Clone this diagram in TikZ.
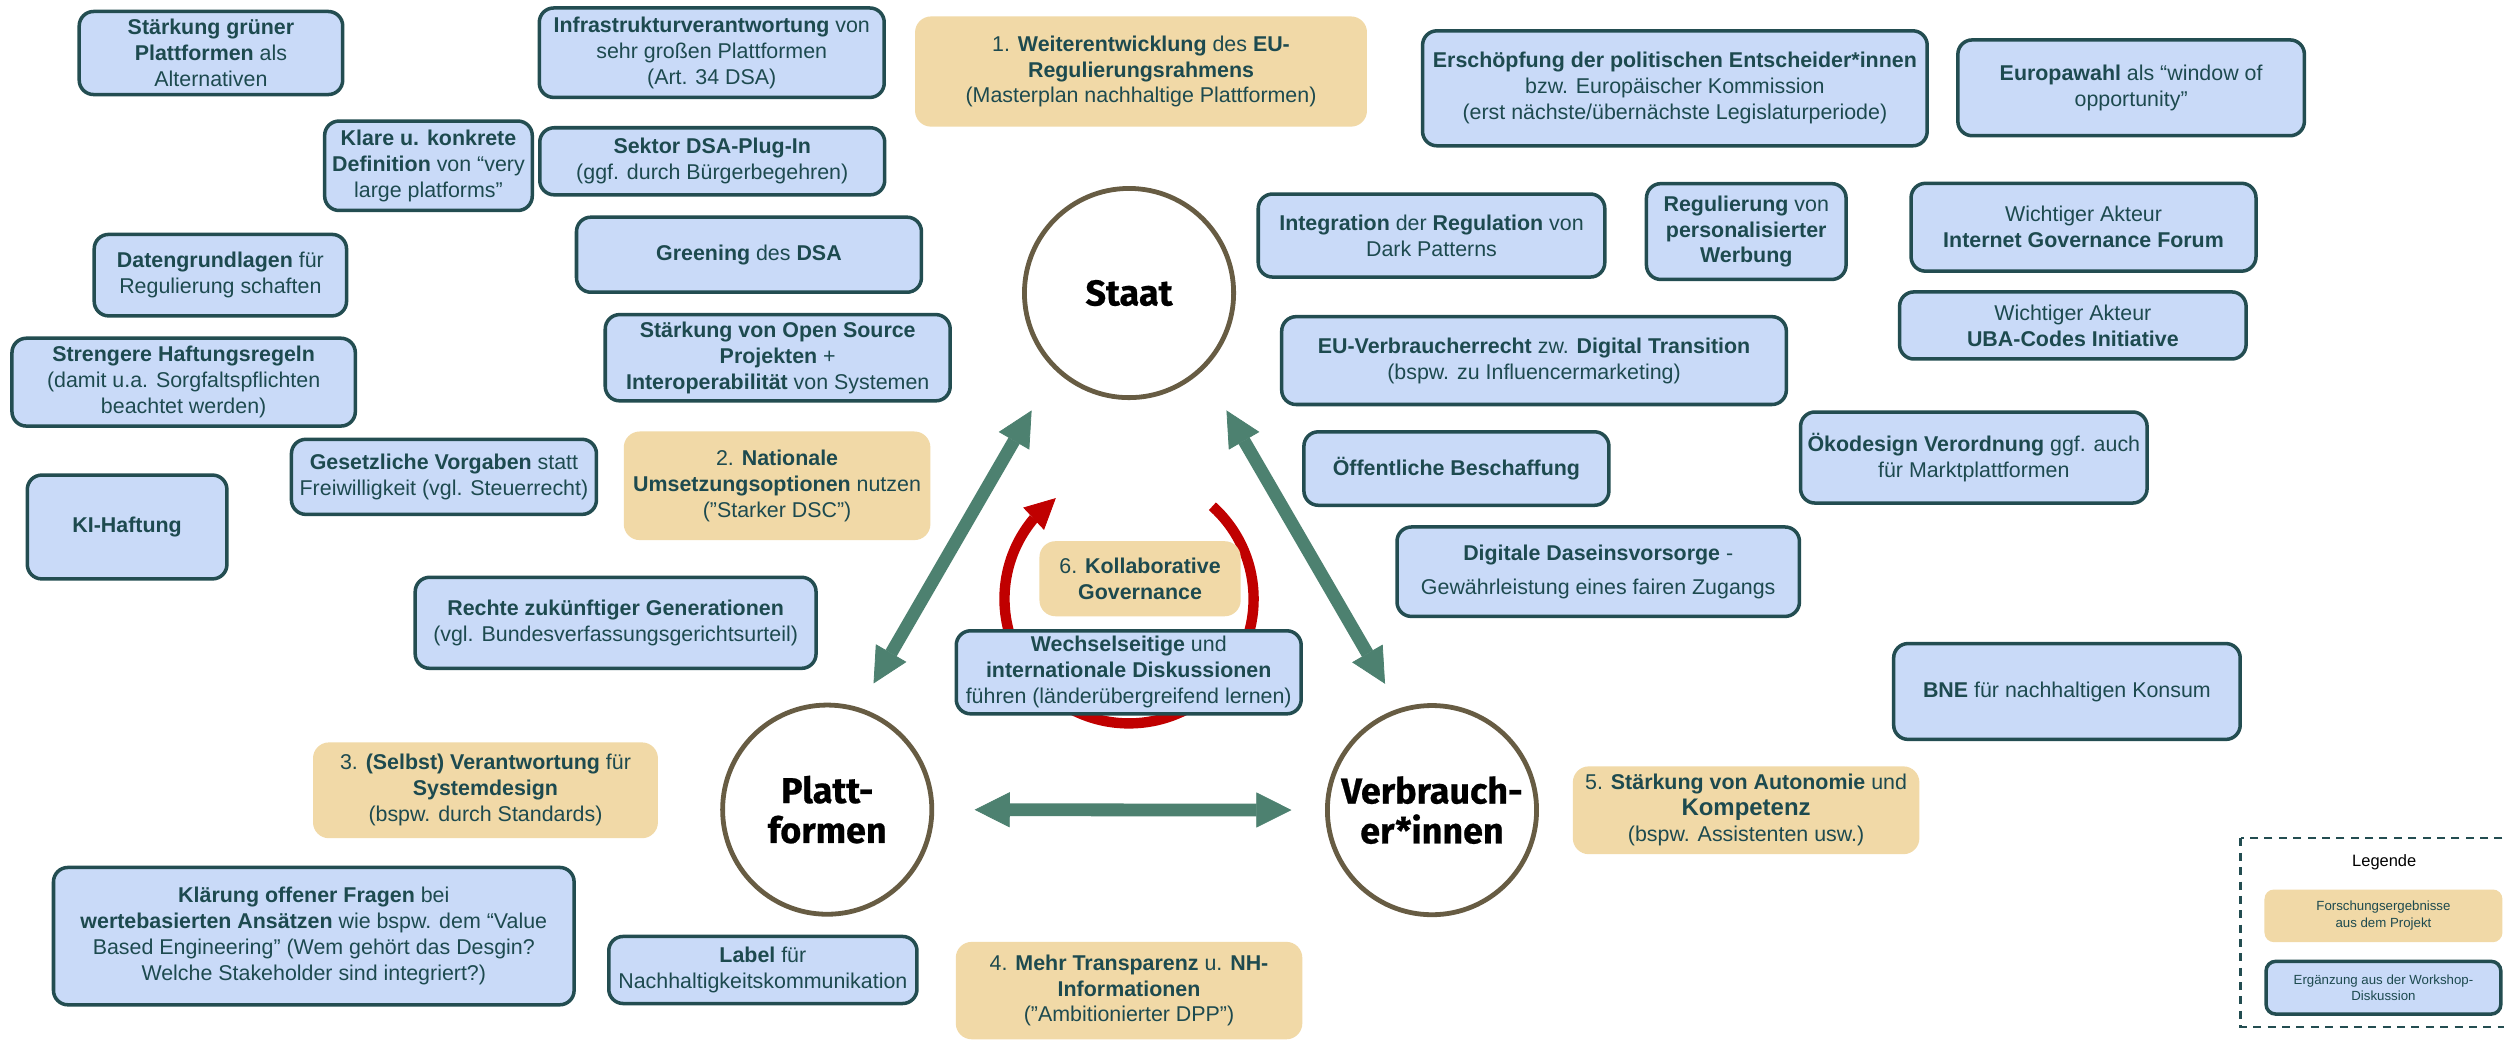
\documentclass[tikz,border=0pt]{standalone}
\usepackage{fontspec}
\setmainfont{Liberation Sans}
\newfontfamily\actorfont[BoldFeatures={FakeBold=0.6}]{Fira Sans}
\usetikzlibrary{arrows.meta,calc,bending}

\definecolor{tealtext}{HTML}{1D4A4F}
\definecolor{tealline}{HTML}{234D51}
\definecolor{bluefill}{HTML}{C9DAF8}
\definecolor{orangefill}{HTML}{F1D9A7}
\definecolor{arrowgreen}{HTML}{4D8170}
\definecolor{circline}{HTML}{675C43}
\definecolor{loopred}{HTML}{C00000}

\begin{document}
\begin{tikzpicture}[x=1pt,y=-1pt,
  every node/.style={inner sep=0pt,outer sep=0pt},
  bodytext/.style={align=center,text=tealtext,font=\fontsize{13.4}{16.2}\selectfont},
  workshop/.style={bodytext,draw=tealline,line width=2.2pt,fill=bluefill,rounded corners=9pt},
  project/.style={bodytext,fill=orangefill,rounded corners=10pt},
  actor/.style={circle,draw=circline,line width=3pt,fill=white,minimum size=131pt,
    align=center,text=black,font=\actorfont\bfseries\fontsize{22.5}{25}\selectfont},
  link/.style={draw=arrowgreen,line width=8pt,
    {Triangle[width=22pt,length=22pt,line width=0.5pt]}-{Triangle[width=22pt,length=22pt,line width=0.5pt]}},
  loop/.style={draw=loopred,line width=6.5pt,-{Triangle[width=19pt,length=19pt,line width=0.5pt]}},
  sz/.style 2 args={minimum width=#1pt,minimum height=#2pt},
]
\useasboundingbox (0,0) rectangle (1568,652);
\clip (0,0) rectangle (1568,652);
\fill[white] (0,0) rectangle (1568,652);

% the three actors
\node[actor] (st) at (707,183.5) {Staat};
\node[actor] (pl) at (518,507) {Platt-\\formen};
\node[actor] (vb) at (896.7,507.3) {Verbrauch-\\er*innen};

% relations between the actors
\coordinate (pl-a) at ($(pl.center)+(29,-79)$);
\coordinate (st-a) at ($(st.center)+(-61,73.5)$);
\coordinate (vb-a) at ($(vb.center)+(-29.4,-79.1)$);
\coordinate (st-b) at ($(st.center)+(61,73.5)$);
\draw[link] (pl-a) -- (st-a);
\draw[link] (vb-a) -- (st-b);
\draw[link,shorten <=26.8pt,shorten >=22.5pt] (pl) -- (vb);

% governance cycle
\coordinate (cyc) at (707,375);
\draw[loop] ($(cyc)+(-48:78)$) arc[start angle=-48,end angle=234,radius=78];

% left column
\node[workshop,sz={165}{52}] (n01) at (132.1,33.2) {\textbf{Stärkung grüner}\\\textbf{Plattformen} als\\Alternativen};
\node[workshop,sz={216}{56}] (n02) at (445.7,33) {\textbf{Infrastrukturverantwortung} von\\sehr großen Plattformen\\(Art. 34 DSA)};
\node[project,sz={283}{69}] (p1) at (714.5,44.8) {1. \textbf{Weiterentwicklung} des \textbf{EU-}\\\textbf{Regulierungsrahmens}\\(Masterplan nachhaltige Plattformen)};
\node[workshop,sz={316}{72}] (n03) at (1048.8,55.3) {\textbf{Erschöpfung der politischen Entscheider*innen}\\bzw. Europäischer Kommission\\(erst nächste/übernächste Legislaturperiode)};
\node[workshop,sz={217}{60}] (n04) at (1334.5,55) {\textbf{Europawahl} als “window of\\opportunity”};
\node[workshop,sz={130}{56}] (n05) at (268.3,103.8) {\textbf{Klare u. konkrete}\\\textbf{Definition} von “very\\large platforms”};
\node[workshop,sz={216}{42}] (n06) at (446,101) {\textbf{Sektor DSA-Plug-In}\\(ggf. durch Bürgerbegehren)};
\node[workshop,sz={216}{47}] (n07) at (469,159.5) {\textbf{Greening} des \textbf{DSA}};
\node[workshop,sz={158}{51}] (n08) at (138,172.3) {\textbf{Datengrundlagen} für\\Regulierung schaften};
\node[workshop,sz={215}{55}] (n09) at (115,239.3) {\textbf{Strengere Haftungsregeln}\\(damit u.a. Sorgfaltspflichten\\beachtet werden)};
\node[workshop,sz={216}{54}] (n10) at (487,224) {\textbf{Stärkung von Open Source}\\\textbf{Projekten} +\\\textbf{Interoperabilität} von Systemen};
\node[workshop,sz={191}{47}] (n11) at (278,298.6) {\textbf{Gesetzliche Vorgaben} statt\\Freiwilligkeit (vgl. Steuerrecht)};
\node[project,sz={192}{68}] (p2) at (486.6,304.2) {2. \textbf{Nationale}\\\textbf{Umsetzungsoptionen} nutzen\\("Starker DSC")};
\node[workshop,sz={125}{65}] (n12) at (79.6,330) {\textbf{KI-Haftung}};
\node[workshop,sz={251}{57}] (n13) at (385.5,390) {\textbf{Rechte zukünftiger Generationen}\\(vgl. Bundesverfassungsgerichtsurteil)};
\node[project,sz={216}{60}] (p3) at (304,494.9) {3. \textbf{(Selbst) Verantwortung} für\\\textbf{Systemdesign}\\(bspw. durch Standards)};
\node[workshop,sz={326}{86}] (n14) at (196.5,586.2) {\textbf{Klärung offener Fragen} bei\\\textbf{wertebasierten Ansätzen} wie bspw. dem “Value\\Based Engineering” (Wem gehört das Desgin?\\Welche Stakeholder sind integriert?)};
\node[workshop,sz={193}{42}] (n15) at (477.7,607.4) {\textbf{Label} für\\Nachhaltigkeitskommunikation};

% centre
\node[project,sz={126}{47}] (p6) at (713.9,362.4) {6. \textbf{Kollaborative}\\\textbf{Governance}};
\node[workshop,sz={216}{52}] (n16) at (706.8,421) {\textbf{Wechselseitige} und\\\textbf{internationale Diskussionen}\\führen (länderübergreifend lernen)};
\node[project,sz={217}{61}] (p4) at (707,620.3) {4. \textbf{Mehr Transparenz} u. \textbf{NH-}\\\textbf{Informationen}\\("Ambitionierter DPP")};

% right column
\node[workshop,sz={217}{52}] (n17) at (896.4,147.5) {\textbf{Integration} der \textbf{Regulation} von\\Dark Patterns};
\node[workshop,sz={125}{60}] (n18) at (1093.5,145) {\textbf{Regulierung} von\\\textbf{personalisierter}\\\textbf{Werbung}};
\node[workshop,sz={216}{55}] (n19) at (1304.7,142.3) {Wichtiger Akteur\\\textbf{Internet Governance Forum}};
\node[workshop,sz={217}{42}] (n20) at (1298,203.8) {Wichtiger Akteur\\\textbf{UBA-Codes Initiative}};
\node[workshop,sz={316}{55}] (n21) at (960.6,225.8) {\textbf{EU-Verbraucherrecht} zw. \textbf{Digital Transition}\\(bspw. zu Influencermarketing)};
\node[workshop,sz={217}{57}] (n22) at (1236,286.5) {\textbf{Ökodesign Verordnung} ggf. auch\\für Marktplattformen};
\node[workshop,sz={191}{46}] (n23) at (912,293.4) {\textbf{Öffentliche Beschaffung}};
\node[workshop,sz={252}{56}] (n24) at (1000.8,358) {\textbf{Digitale Daseinsvorsorge} -\\[5pt]Gewährleistung eines fairen Zugangs};
\node[workshop,sz={217}{60}] (n25) at (1294.3,433) {\textbf{BNE} für nachhaltigen Konsum};
\node[project,sz={217}{55}] (p5) at (1093.4,507.4) {5. \textbf{Stärkung von Autonomie} und\\{\fontsize{15}{18}\selectfont\textbf{Kompetenz}}\\(bspw. Assistenten usw.)};

% legend
\draw[tealline,line width=1.3pt,dash pattern=on 5pt off 4pt] (1403,525) rectangle (1610,643);
\node[text=black,font=\fontsize{10.3}{12}\selectfont] (leg) at (1493,540) {Legende};
\node[project,sz={149}{33},font=\fontsize{8.3}{10.5}\selectfont,rounded corners=6pt] (leg1) at (1492.5,573.5) {Forschungsergebnisse\\aus dem Projekt};
\node[workshop,sz={147}{33},font=\fontsize{8.3}{10.5}\selectfont,rounded corners=6pt] (leg2) at (1492.5,618.5) {Ergänzung aus der Workshop-\\Diskussion};
\end{tikzpicture}
\end{document}
